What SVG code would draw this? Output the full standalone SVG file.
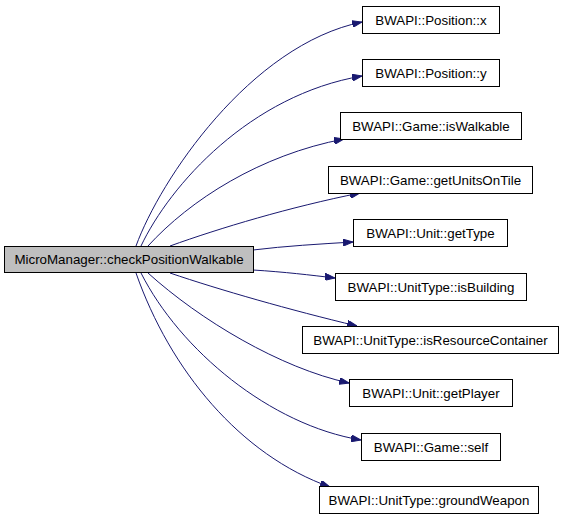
<svg xmlns="http://www.w3.org/2000/svg" width="565" height="520" viewBox="0 0 565 520">
<defs>
<style>
.n rect{fill:#ffffff;stroke:#000000;stroke-width:1}
.n.main rect{fill:#bfbfbf}
.n text{font-family:"Liberation Sans",Arial,sans-serif;font-size:13.33px;text-anchor:middle;fill:#000000}
.e path{fill:none;stroke:#191970;stroke-width:1;marker-end:url(#ah)}
</style>
<marker id="ah" viewBox="0 0 10 7" refX="10" refY="3.5" markerWidth="10" markerHeight="7" markerUnits="userSpaceOnUse" orient="auto">
<path d="M0,0 L10,3.5 L0,7 Z" fill="#191970" stroke="#191970" stroke-width="1"/>
</marker>
</defs>
<rect width="565" height="520" fill="#ffffff"/>
<g id="edges" class="e">
<path d="M136,246 C160,180 250,45 362,22"/>
<path d="M141,246 C170,185 250,95 362,76"/>
<path d="M148,246 C190,200 260,155 344,139"/>
<path d="M170,246 C220,228 290,207 360,193"/>
<path d="M253,250 C285,246 320,244 353,242"/>
<path d="M253,270 C285,272 310,275 335,278"/>
<path d="M170,273 C220,290 290,310 357,326"/>
<path d="M148,273 C200,320 280,368 349,383"/>
<path d="M141,273 C180,350 270,425 361,440"/>
<path d="M136,273 C170,370 240,455 330,487"/>
</g>
<g id="main" class="n main"><rect x="4.5" y="246.5" width="249" height="26"/><text x="129" y="264">MicroManager::checkPositionWalkable</text></g>
<g id="posx" class="n"><rect x="362.5" y="6.5" width="137" height="27"/><text x="431" y="24.5">BWAPI::Position::x</text></g>
<g id="posy" class="n"><rect x="362.5" y="59.5" width="137" height="27"/><text x="431" y="77.5">BWAPI::Position::y</text></g>
<g id="iswalkable" class="n"><rect x="340.5" y="112.5" width="181" height="27"/><text x="431" y="130.5">BWAPI::Game::isWalkable</text></g>
<g id="getunitsontile" class="n"><rect x="328.5" y="166.5" width="204" height="27"/><text x="430.5" y="184.5">BWAPI::Game::getUnitsOnTile</text></g>
<g id="gettype" class="n"><rect x="353.5" y="219.5" width="154" height="27"/><text x="430.5" y="237.5">BWAPI::Unit::getType</text></g>
<g id="isbuilding" class="n"><rect x="335.5" y="273.5" width="191" height="27"/><text x="431" y="291.5">BWAPI::UnitType::isBuilding</text></g>
<g id="isresourcecontainer" class="n"><rect x="302.5" y="326.5" width="256" height="27"/><text x="430.5" y="344.5">BWAPI::UnitType::isResourceContainer</text></g>
<g id="getplayer" class="n"><rect x="349.5" y="379.5" width="163" height="27"/><text x="431" y="397.5">BWAPI::Unit::getPlayer</text></g>
<g id="self" class="n"><rect x="361.5" y="433.5" width="139" height="27"/><text x="431" y="451.5">BWAPI::Game::self</text></g>
<g id="groundweapon" class="n"><rect x="319.5" y="486.5" width="219" height="27"/><text x="429" y="504.5">BWAPI::UnitType::groundWeapon</text></g>
</svg>
